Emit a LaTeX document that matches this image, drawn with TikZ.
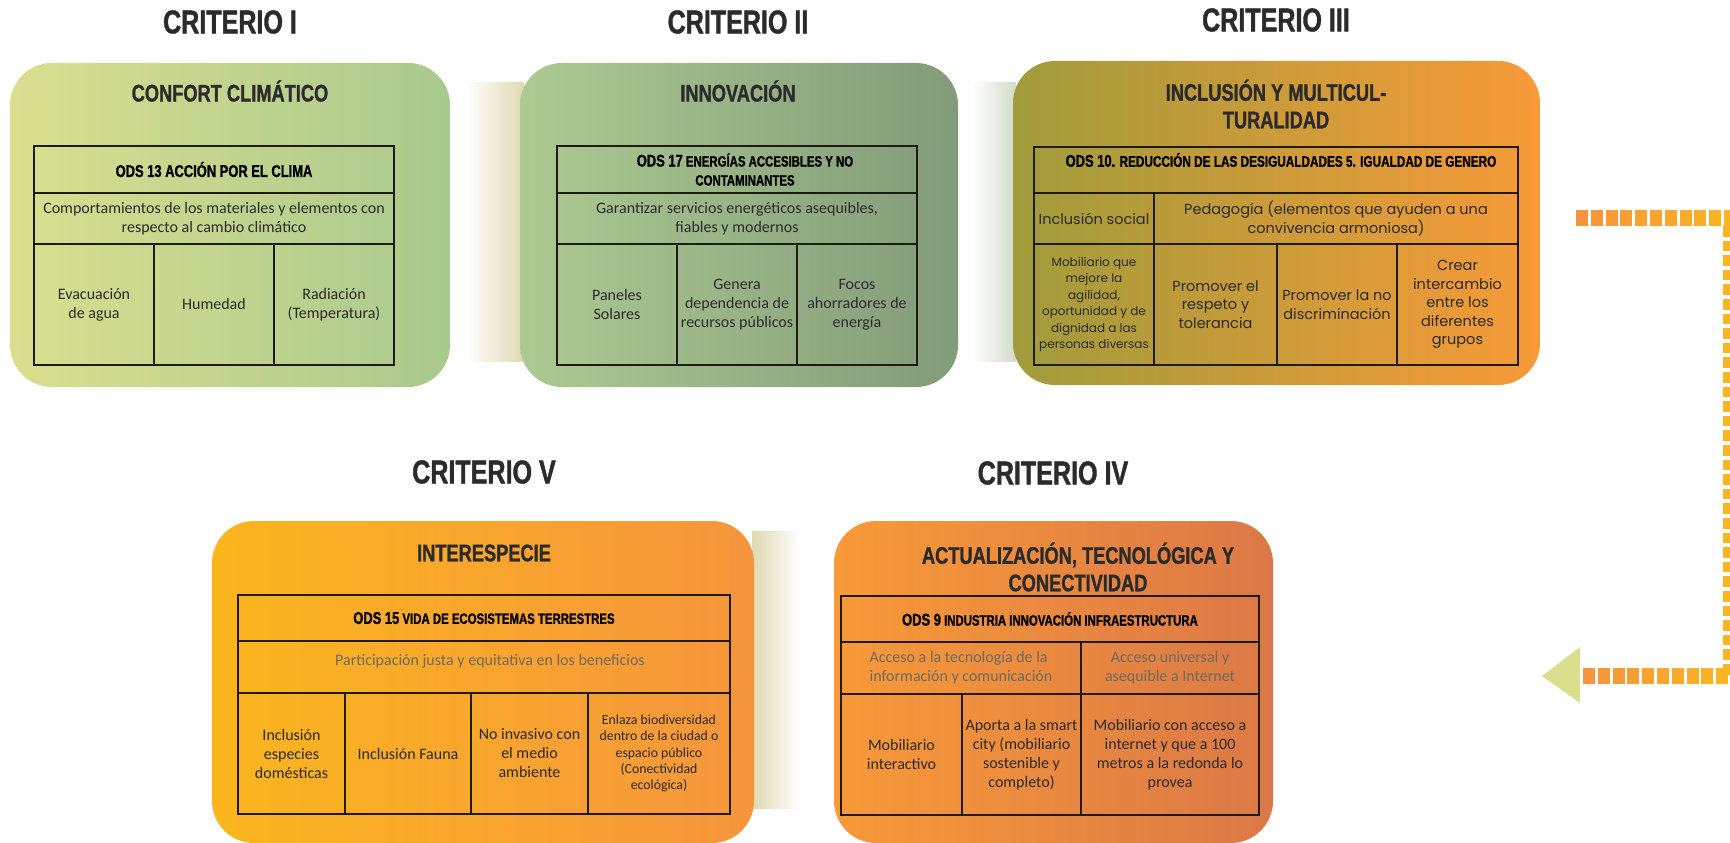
\documentclass[tikz,border=0pt]{standalone}
\usepackage{fontspec}
\setmainfont{Carlito}
\newfontfamily\headfont[FakeStretch=0.76, FakeBold=1.2]{Liberation Sans}
\newfontfamily\gothfont{Poppins}
\usetikzlibrary{calc}

\definecolor{titlegray}{HTML}{2B2B2B}
\definecolor{lineblack}{HTML}{1E1A14}
\definecolor{softgray}{HTML}{6E6A60}
\definecolor{limeA}{HTML}{DADF8E}
\definecolor{limeB}{HTML}{A9C98E}
\definecolor{sageA}{HTML}{ADCA92}
\definecolor{sageB}{HTML}{829B79}
\definecolor{oliveA}{HTML}{A09C3B}
\definecolor{orangeA}{HTML}{F89A38}
\definecolor{amberA}{HTML}{FBB61E}
\definecolor{orangeB}{HTML}{F6953D}
\definecolor{rustB}{HTML}{DB7847}
\definecolor{beige}{HTML}{DFD9B1}
\definecolor{mist}{HTML}{D2DBCB}
\definecolor{dashorange}{HTML}{F7943D}
\definecolor{dashyellow}{HTML}{FBB520}

\tikzset{
  criterio/.style={font=\headfont\bfseries\fontsize{33}{36}\selectfont, text=titlegray},
  boxtitle/.style={font=\headfont\bfseries\fontsize{24}{27.5}\selectfont, text=titlegray, align=center},
  panel/.style={rounded corners=42pt, inner sep=0pt},
  cell/.style={draw=lineblack, line width=1.3pt, inner sep=1pt, align=center, text=titlegray},
  odscell/.style={cell, font=\headfont\bfseries\fontsize{15}{19}\selectfont, text=black},
  odstext/.style={font=\headfont\bfseries\fontsize{15}{19}\selectfont, text=black, align=center},
  txt/.style={font=\fontsize{16}{19}\selectfont},
  small/.style={font=\fontsize{13.8}{16.2}\selectfont},
  goth/.style={font=\gothfont\fontsize{14.5}{18.5}\selectfont},
  gothsmall/.style={font=\gothfont\fontsize{12}{16.4}\selectfont},
  dim/.style={text=softgray}
}
\newcommand{\odsnum}[1]{{\fontsize{17}{19}\selectfont #1}}

\begin{document}
\begin{tikzpicture}[x=1pt, y=-1pt]
  \useasboundingbox (0,0) rectangle (1730,843);

  % faded bands behind the panels
  \shade[left color=white, middle color=mist, right color=beige] (467,83) rectangle (524,361);
  \shade[left color=white, right color=mist] (972,83) rectangle (1016,361);
  \shade[left color=beige, middle color=mist, right color=white] (752,531) rectangle (801,808);

  % panels
  \node[panel, left color=limeA, right color=limeB, minimum width=440pt, minimum height=324pt] (panelI) at (230,225) {};
  \node[panel, left color=sageA, right color=sageB, minimum width=438pt, minimum height=324pt] (panelII) at (739,225) {};
  \node[panel, left color=oliveA, right color=orangeA, minimum width=527pt, minimum height=324pt] (panelIII) at (1276.5,223) {};
  \node[panel, left color=amberA, right color=orangeB, minimum width=542pt, minimum height=322pt] (panelV) at (483,682) {};
  \node[panel, left color=orangeA, right color=rustB, minimum width=439pt, minimum height=322pt] (panelIV) at (1053.5,682) {};

  % headings
  \node[criterio] (critI) at (230,22) {CRITERIO I};
  \node[criterio] (critII) at (738,22) {CRITERIO II};
  \node[criterio] (critIII) at (1276,20) {CRITERIO III};
  \node[criterio] (critV) at (484,472) {CRITERIO V};
  \node[criterio] (critIV) at (1053,473) {CRITERIO IV};

  \node[boxtitle] (nameI) at (230,91) {CONFORT CLIMÁTICO};
  \node[boxtitle] (nameII) at (738,91) {INNOVACIÓN};
  \node[boxtitle] (nameIII) at (1276,104) {INCLUSIÓN Y MULTICUL-\\TURALIDAD};
  \node[boxtitle] (nameV) at (484,553) {INTERESPECIE};
  \node[boxtitle] (nameIV) at (1078,567) {ACTUALIZACIÓN, TECNOLÓGICA Y\\CONECTIVIDAD};

  % criterio I
  \node[odscell, font=\headfont\bfseries\fontsize{17}{19}\selectfont, minimum width=360pt, minimum height=47pt] (odsI) at (214,169.5) {ODS 13 ACCIÓN POR EL CLIMA};
  \node[cell, txt, minimum width=360pt, minimum height=51pt] (goalI) at (214,218.5) {Comportamientos de los materiales y elementos con\\respecto al cambio climático};
  \node[cell, txt, minimum width=120pt, minimum height=121pt] (agua) at (94,304.5) {Evacuación\\de agua};
  \node[cell, txt, minimum width=120pt, minimum height=121pt] (humedad) at (214,304.5) {Humedad};
  \node[cell, txt, minimum width=120pt, minimum height=121pt] (radiacion) at (334,304.5) {Radiación\\(Temperatura)};

  % criterio II
  \node[cell, minimum width=360pt, minimum height=47pt] (odsII) at (737,169.5) {};
  \node[odstext] (odsIItext) at (745,169.5) {\odsnum{ODS 17} ENERGÍAS ACCESIBLES Y NO\\CONTAMINANTES};
  \node[cell, txt, minimum width=360pt, minimum height=51pt] (goalII) at (737,218.5) {Garantizar servicios energéticos asequibles,\\fiables y modernos};
  \node[cell, txt, minimum width=120pt, minimum height=121pt] (paneles) at (617,304.5) {Paneles\\Solares};
  \node[cell, txt, minimum width=120pt, minimum height=121pt] (dependencia) at (737,304.5) {Genera\\dependencia de\\recursos públicos};
  \node[cell, txt, minimum width=120pt, minimum height=121pt] (focos) at (857,304.5) {Focos\\ahorradores de\\energía};

  % criterio III
  \node[cell, minimum width=484pt, minimum height=46pt] (odsIII) at (1276,170) {};
  \node[odstext, font=\headfont\bfseries\fontsize{15.5}{19}\selectfont] (odsIIItext) at (1281,160) {\odsnum{ODS 10.} REDUCCIÓN DE LAS DESIGUALDADES 5. IGUALDAD DE GENERO};
  \node[cell, goth, minimum width=120pt, minimum height=51pt] (inclusion) at (1094,218.5) {Inclusión social};
  \node[cell, goth, minimum width=364pt, minimum height=51pt] (pedagogia) at (1336,218.5) {Pedagogía (elementos que ayuden a una\\convivencia armoniosa)};
  \node[cell, gothsmall, minimum width=120pt, minimum height=121pt] (mobiliarioIII) at (1094,304.5) {Mobiliario que\\mejore la\\agilidad,\\oportunidad y de\\dignidad a las\\personas diversas};
  \node[cell, goth, minimum width=123pt, minimum height=121pt] (respeto) at (1215.5,304.5) {Promover el\\respeto y\\tolerancia};
  \node[cell, goth, minimum width=120pt, minimum height=121pt] (nodiscrim) at (1337,304.5) {Promover la no\\discriminación};
  \node[cell, goth, minimum width=121pt, minimum height=121pt] (intercambio) at (1457.5,304.5) {Crear\\intercambio\\entre los\\diferentes\\grupos};

  % criterio V
  \node[odscell, minimum width=492pt, minimum height=46pt] (odsV) at (484,618) {\odsnum{ODS 15} VIDA DE ECOSISTEMAS TERRESTRES};
  \node[cell, minimum width=492pt, minimum height=52pt] (goalV) at (484,667) {};
  \node[txt, dim] (goalVtext) at (490,661) {Participación justa y equitativa en los beneficios};
  \node[cell, txt, minimum width=107pt, minimum height=121pt] (domesticas) at (291.5,753.5) {Inclusión\\especies\\domésticas};
  \node[cell, txt, minimum width=126pt, minimum height=121pt] (fauna) at (408,753.5) {Inclusión Fauna};
  \node[cell, txt, minimum width=117pt, minimum height=121pt] (noinvasivo) at (529.5,753.5) {No invasivo con\\el medio\\ambiente};
  \node[cell, small, minimum width=142pt, minimum height=121pt] (enlaza) at (659,753.5) {Enlaza biodiversidad\\dentro de la ciudad o\\espacio público\\(Conectividad\\ecológica)};

  % criterio IV
  \node[odscell, minimum width=418pt, minimum height=46pt] (odsIV) at (1050,619) {\odsnum{ODS 9} INDUSTRIA INNOVACIÓN INFRAESTRUCTURA};
  \node[cell, txt, dim, align=left, minimum width=240pt, minimum height=52pt] (tic) at (961,668) {Acceso a la tecnología de la\\información y comunicación};
  \node[cell, txt, dim, minimum width=178pt, minimum height=52pt] (internet) at (1170,668) {Acceso universal y\\asequible a Internet};
  \node[cell, txt, minimum width=121pt, minimum height=121pt] (interactivo) at (901.5,754.5) {Mobiliario\\interactivo};
  \node[cell, txt, minimum width=119pt, minimum height=121pt] (smartcity) at (1021.5,754.5) {Aporta a la smart\\city (mobiliario\\sostenible y\\completo)};
  \node[cell, txt, minimum width=178pt, minimum height=121pt] (acceso) at (1170,754.5) {Mobiliario con acceso a\\internet y que a 100\\metros a la redonda lo\\provea};

  % dashed loop back to the start
  \coordinate (loopstart) at (1576,218);
  \coordinate (loopturn) at (1729,218);
  \coordinate (loopend) at (1583,676);
  \coordinate (tip) at (1542,676);
  \foreach \i in {0,...,10}{
    \pgfmathtruncatemacro\p{min(100,10*\i)}
    \fill[dashyellow!\p!dashorange] ($(loopstart)+(\i*14.8,-8)$) rectangle +(12,16);
  }
  \foreach \i in {0,...,30}
    \fill[dashyellow] ($(loopturn)+(-6,8+\i*14.6)$) rectangle +(13,10.5);
  \foreach \i in {0,...,9}{
    \pgfmathtruncatemacro\p{min(100,11*\i)}
    \fill[dashyellow!\p!dashorange] ($(loopend)+(\i*14.8,-8)$) rectangle +(12,16);
  }
  \fill[limeA] (tip) -- ($(loopend)+(-3,-29)$) -- ($(loopend)+(-3,27)$) -- cycle;
\end{tikzpicture}
\end{document}
